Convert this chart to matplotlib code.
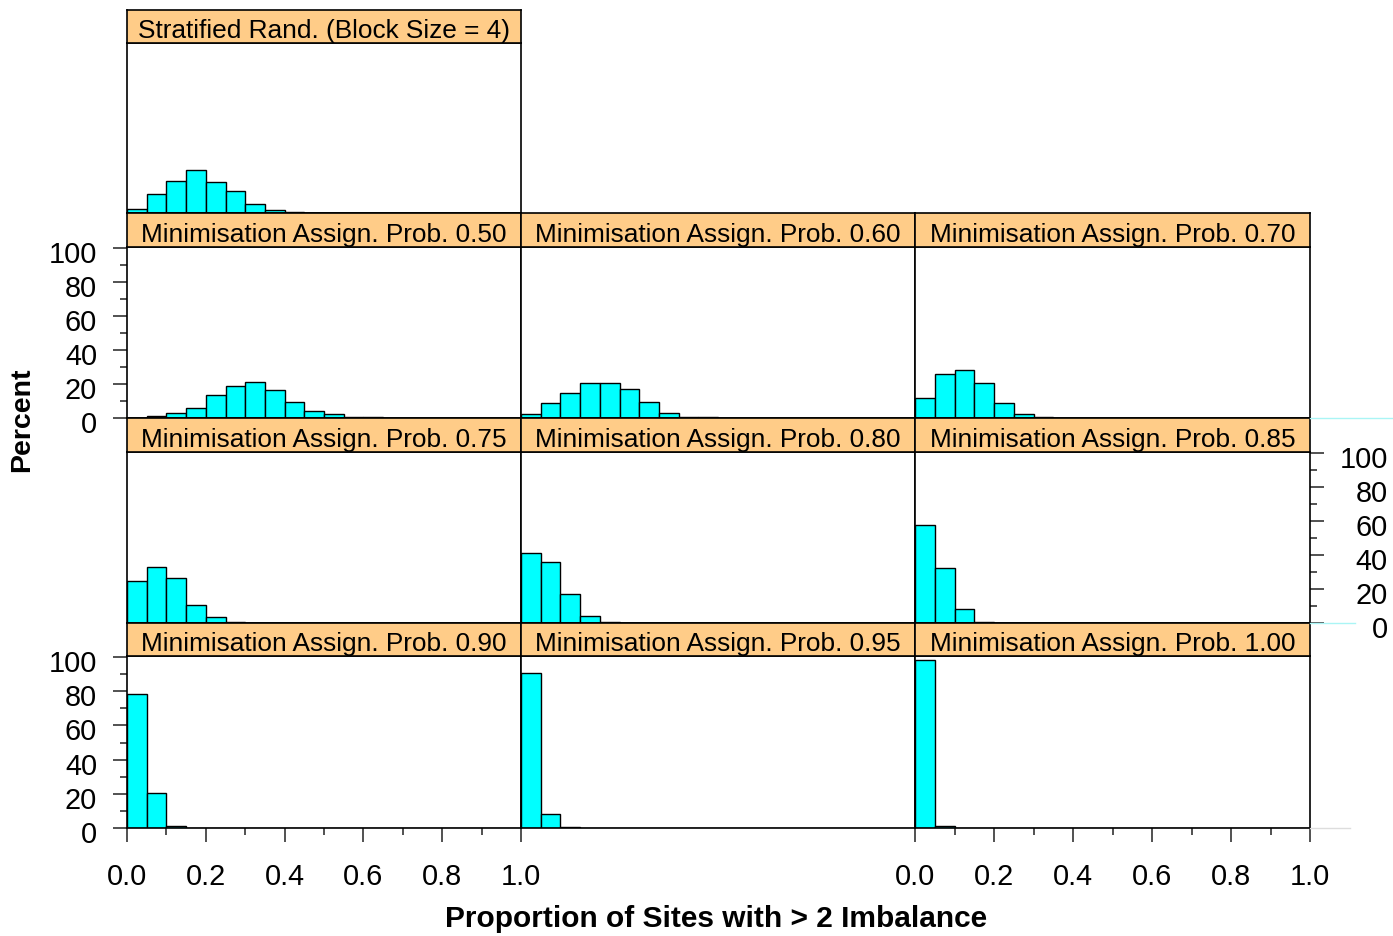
import numpy as np
import matplotlib
matplotlib.use("Agg")
import matplotlib.pyplot as plt
from matplotlib.ticker import MultipleLocator
from matplotlib.lines import Line2D
from matplotlib.transforms import ScaledTranslation

plt.rcParams['font.family'] = ['Liberation Sans', 'DejaVu Sans']

W, H = 1393, 936

# ---- data (percent of simulations per bin of width 0.05) ----
bin_edges = np.round(np.arange(0, 1.0001, 0.05), 2)

strat_block4 = [2.2, 11.4, 19.0, 25.5, 18.2, 12.9, 5.1, 1.8, 0.4, 0, 0, 0, 0, 0, 0, 0, 0, 0, 0, 0]
min_050 = [0, 1.0, 2.7, 6.1, 13.7, 19.0, 21.1, 16.6, 9.2, 3.9, 2.6, 0.8, 0.3, 0, 0, 0, 0, 0, 0, 0]
min_060 = [2.2, 8.6, 14.7, 20.8, 20.6, 17.0, 9.2, 2.9, 0.8, 0.3, 0, 0, 0, 0, 0, 0, 0, 0, 0, 0]
min_070 = [12.0, 26.1, 28.0, 20.8, 9.0, 2.6, 0.4, 0.2, 0, 0, 0, 0, 0, 0, 0, 0, 0, 0, 0, 0]
min_075 = [24.7, 33.1, 26.3, 10.7, 3.5, 0.8, 0.2, 0, 0, 0, 0, 0, 0, 0, 0, 0, 0, 0, 0, 0]
min_080 = [41.1, 35.8, 17.3, 3.9, 0.8, 0.2, 0, 0, 0, 0, 0, 0, 0, 0, 0, 0, 0, 0, 0, 0]
min_085 = [57.9, 32.5, 8.0, 0.8, 0, 0, 0, 0, 0, 0, 0, 0, 0, 0, 0, 0, 0, 0, 0, 0]
min_090 = [78.6, 20.3, 1.1, 0, 0, 0, 0, 0, 0, 0, 0, 0, 0, 0, 0, 0, 0, 0, 0, 0]
min_095 = [90.8, 8.4, 0.8, 0, 0, 0, 0, 0, 0, 0, 0, 0, 0, 0, 0, 0, 0, 0, 0, 0]
min_100 = [98.5, 1.2, 0, 0, 0, 0, 0, 0, 0, 0, 0, 0, 0, 0, 0, 0, 0, 0, 0, 0]

panel_titles = [
    "Stratified Rand. (Block Size = 4)",
    "Minimisation Assign. Prob. 0.50", "Minimisation Assign. Prob. 0.60", "Minimisation Assign. Prob. 0.70",
    "Minimisation Assign. Prob. 0.75", "Minimisation Assign. Prob. 0.80", "Minimisation Assign. Prob. 0.85",
    "Minimisation Assign. Prob. 0.90", "Minimisation Assign. Prob. 0.95", "Minimisation Assign. Prob. 1.00",
]
panel_data = [strat_block4, min_050, min_060, min_070, min_075, min_080, min_085,
              min_090, min_095, min_100]

x_ticks = [0.0, 0.2, 0.4, 0.6, 0.8, 1.0]
x_tick_labels = ["0.0", "0.2", "0.4", "0.6", "0.8", "1.0"]
y_ticks = [0, 20, 40, 60, 80, 100]
y_tick_labels = ["0", "20", "40", "60", "80", "100"]

xlabel = "Proportion of Sites with > 2 Imbalance"
ylabel = "Percent"

# ---- layout (pixels) ----
cols = [(127, 521), (521, 915), (915, 1310)]
rows = [(10, 43, 213), (213, 247, 418), (418, 452, 623), (623, 656, 828)]
positions = [(0, 0), (1, 0), (1, 1), (1, 2), (2, 0), (2, 1), (2, 2), (3, 0), (3, 1), (3, 2)]

STRIP = '#FFCC88'
BAR = '#00FFFF'
TICKC = '#333333'
TICK_FS = 20.8
STRIP_FS = 18.9

fig = plt.figure(figsize=(W / 100, H / 100), dpi=100)
down = ScaledTranslation(0, -4 / 100, fig.dpi_scale_trans)


def px_axes(x0, y0, x1, y1, **kw):
    return fig.add_axes([x0 / W, 1 - y1 / H, (x1 - x0) / W, (y1 - y0) / H], **kw)


for title, data, (r, c) in zip(panel_titles, panel_data, positions):
    x0, x1 = cols[c]
    s0, p0, p1 = rows[r]
    ax = px_axes(x0, p0, x1, p1)
    ax.bar(bin_edges[:-1], data, width=0.05, align='edge', color=BAR,
           edgecolor='black', linewidth=1.0, zorder=2)
    ax.set_xlim(0, 1)
    ax.set_ylim(0, 100.6)
    for sp in ax.spines.values():
        sp.set_color('black')
        sp.set_linewidth(1.2)
    ax.tick_params(left=False, bottom=False, labelleft=False, labelbottom=False,
                   which='both')

    if (r, c) in [(1, 0), (3, 0)]:
        ax.set_yticks(y_ticks)
        ax.set_yticklabels(y_tick_labels)
        ax.yaxis.set_minor_locator(MultipleLocator(10))
        ax.tick_params(axis='y', which='major', left=True, labelleft=True, direction='out',
                       length=10, width=1.2, color=TICKC, labelsize=TICK_FS, pad=11.5)
        ax.tick_params(axis='y', which='minor', left=True, direction='out',
                       length=5, width=1.2, color=TICKC)
        for t in ax.yaxis.get_major_ticks():
            t.label1.set_transform(t.label1.get_transform() + down)
    if (r, c) == (2, 2):
        ax.set_yticks(y_ticks)
        ax.set_yticklabels(y_tick_labels)
        ax.yaxis.set_minor_locator(MultipleLocator(10))
        ax.tick_params(axis='y', which='major', right=True, labelright=True, left=False,
                       labelleft=False, direction='out', length=10, width=1.2, color=TICKC,
                       labelsize=TICK_FS, pad=46)
        ax.tick_params(axis='y', which='minor', right=True, left=False, direction='out',
                       length=5, width=1.2, color=TICKC)
        for t in ax.yaxis.get_major_ticks():
            t.label2.set_horizontalalignment('right')
            t.label2.set_transform(t.label2.get_transform() + down)

    if (r, c) in [(3, 0), (3, 2)]:
        ax.set_xticks(x_ticks)
        ax.set_xticklabels(x_tick_labels)
        ax.xaxis.set_minor_locator(MultipleLocator(0.1))
        ax.tick_params(axis='x', which='major', bottom=True, labelbottom=True, direction='out',
                       length=10, width=1.2, color=TICKC, labelsize=TICK_FS, pad=15.5)
        ax.tick_params(axis='x', which='minor', bottom=True, direction='out',
                       length=5, width=1.2, color=TICKC)

    sax = px_axes(x0, s0, x1, p0)
    sax.set_facecolor(STRIP)
    sax.set_xticks([])
    sax.set_yticks([])
    for sp in sax.spines.values():
        sp.set_color('black')
        sp.set_linewidth(1.2)
    sax.text(0.5, 0.36, title, ha='center', va='center', fontsize=STRIP_FS,
             color='black', transform=sax.transAxes)

# faint artefact lines to the right of the panels
fig.add_artist(Line2D([1310 / W, 1 - 0.5 / W], [1 - 418 / H, 1 - 418 / H],
                      color='#AAF5F5', lw=1.0))
fig.add_artist(Line2D([1310 / W, 1355 / W], [1 - 623 / H, 1 - 623 / H],
                      color='#AAF5F5', lw=1.0))
fig.add_artist(Line2D([1310 / W, 1350 / W], [1 - 828 / H, 1 - 828 / H],
                      color='#DDDDDD', lw=1.0))

fig.text(22 / W, 1 - 420 / H, ylabel, rotation=90, ha='center', va='center',
         fontsize=20.5, fontweight='bold')
fig.text(716 / W, 1 - 919 / H, xlabel, ha='center', va='center',
         fontsize=21.5, fontweight='bold')

fig.savefig('out.png', dpi=100)
